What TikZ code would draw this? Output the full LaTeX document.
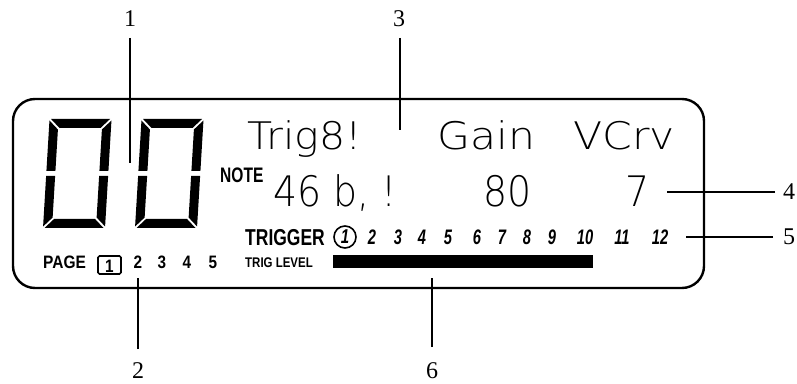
\documentclass[tikz,border=0pt]{standalone}
\usepackage{fontspec}
\usepackage{graphicx}
\setmainfont{Liberation Serif}
\newfontfamily\lcd{DejaVuSans-ExtraLight.ttf}
\newfontfamily\lab{Liberation Sans}
\newcommand{\sqz}[2]{\scalebox{#1}[1]{#2}}
\newcommand{\bsz}[1]{\lab\bfseries\fontsize{#1}{#1}\selectfont}
\newcommand{\segzero}[2]{%
  \begin{scope}[shift={(#1,#2)}, xslant=0.06]
    \fill (1.5,109) -- (60.5,109) -- (51.5,100) -- (10.5,100) -- cycle;
    \fill (1.5,0) -- (60.5,0) -- (51.5,9) -- (10.5,9) -- cycle;
    \fill (0,107.5) -- (9,98.5) -- (9,57) -- (0,57) -- cycle;
    \fill (0,1.5) -- (9,10.5) -- (9,52) -- (0,52) -- cycle;
    \fill (62,107.5) -- (53,98.5) -- (53,57) -- (62,57) -- cycle;
    \fill (62,1.5) -- (53,10.5) -- (53,52) -- (62,52) -- cycle;
  \end{scope}}
\tikzset{
  callout/.style={line width=2pt},
  calllabel/.style={font=\fontsize{24}{24}\selectfont, inner sep=0pt},
  lcdtop/.style={font=\lcd\fontsize{38}{38}\selectfont, inner sep=0pt, anchor=base west},
  lcdmid/.style={font=\lcd\fontsize{42}{42}\selectfont, inner sep=0pt, anchor=base west},
  boldlab/.style={inner sep=0pt, anchor=base west},
  trignum/.style={inner sep=0pt, font=\bsz{21}\itshape},
  pagenum/.style={inner sep=0pt, anchor=base, font=\bsz{18}},
  frame/.style={line width=2.4pt, rounded corners=22pt},
}
\begin{document}
\begin{tikzpicture}[x=1pt,y=1pt]
\useasboundingbox (0,0) rectangle (797,383);
% display frame
\draw[frame] (13,95) rectangle (704,284);
% big digits
\segzero{43}{155}
\segzero{135}{155}
% LCD top row
\node[lcdtop] (trig) at (247,233) {\sqz{1.08}{Trig8!}};
\node[lcdtop] (gain) at (437,233) {\sqz{1.12}{Gain}};
\node[lcdtop] (vcrv) at (573,233) {\sqz{1.12}{VCrv}};
% LCD middle row
\node[boldlab, font=\bsz{21}] (note) at (220,200) {\sqz{0.74}{NOTE}};
\node[lcdmid] (val1) at (273,176) {\sqz{0.9}{46 b, !}};
\node[lcdmid] (val2) at (483,176) {\sqz{0.9}{80}};
\node[lcdmid] (val3) at (625,176) {\sqz{0.9}{7}};
% trigger row
\node[boldlab, font=\bsz{23}] (trigger) at (245,138) {\sqz{0.76}{TRIGGER}};
\node[circle, draw, line width=1.6pt, minimum size=22pt, inner sep=0pt, font=\bsz{20}\itshape] (tg1) at (345,146) {\sqz{0.75}{1}};
\foreach \n/\x in {2/372,3/398,4/422,5/448,6/477,7/502,8/527,9/552,10/585,11/622,12/660}
  \node[trignum] (tg\n) at (\x,146) {\sqz{0.7}{\n}};
% page row
\node[boldlab, font=\bsz{18}] (page) at (43,115) {\sqz{0.86}{PAGE}};
\draw[line width=1.6pt, rounded corners=1.5pt] (98,109) rectangle (121,127);
\node[pagenum] (pg1) at (109.5,111) {\sqz{0.85}{1}};
\foreach \n/\x in {2/138,3/162,4/187,5/213}
  \node[pagenum] (pg\n) at (\x,115) {\sqz{0.85}{\n}};
% trig level
\node[boldlab, font=\bsz{14}] (triglevel) at (245,116) {\sqz{0.82}{TRIG LEVEL}};
\fill (333,115) rectangle (593,128);
% callouts
\node[calllabel] (l1) at (130,364) {1};
\node[calllabel] (l3) at (399,364) {3};
\node[calllabel] (l2) at (138,12) {2};
\node[calllabel] (l6) at (432,12) {6};
\node[calllabel] (l4) at (789,191) {4};
\node[calllabel] (l5) at (789,146) {5};
\coordinate (c1a) at (130,345); \coordinate (c1b) at (130,220);
\coordinate (c3a) at (400,345); \coordinate (c3b) at (400,253);
\coordinate (c2a) at (138,34);  \coordinate (c2b) at (138,105);
\coordinate (c6a) at (432,36);  \coordinate (c6b) at (432,105);
\coordinate (c4a) at (775,191); \coordinate (c4b) at (667,191);
\coordinate (c5a) at (773,146); \coordinate (c5b) at (686,146);
\draw[callout] (c1a) -- (c1b);
\draw[callout] (c3a) -- (c3b);
\draw[callout] (c2a) -- (c2b);
\draw[callout] (c6a) -- (c6b);
\draw[callout] (c4a) -- (c4b);
\draw[callout] (c5a) -- (c5b);
\end{tikzpicture}
\end{document}
